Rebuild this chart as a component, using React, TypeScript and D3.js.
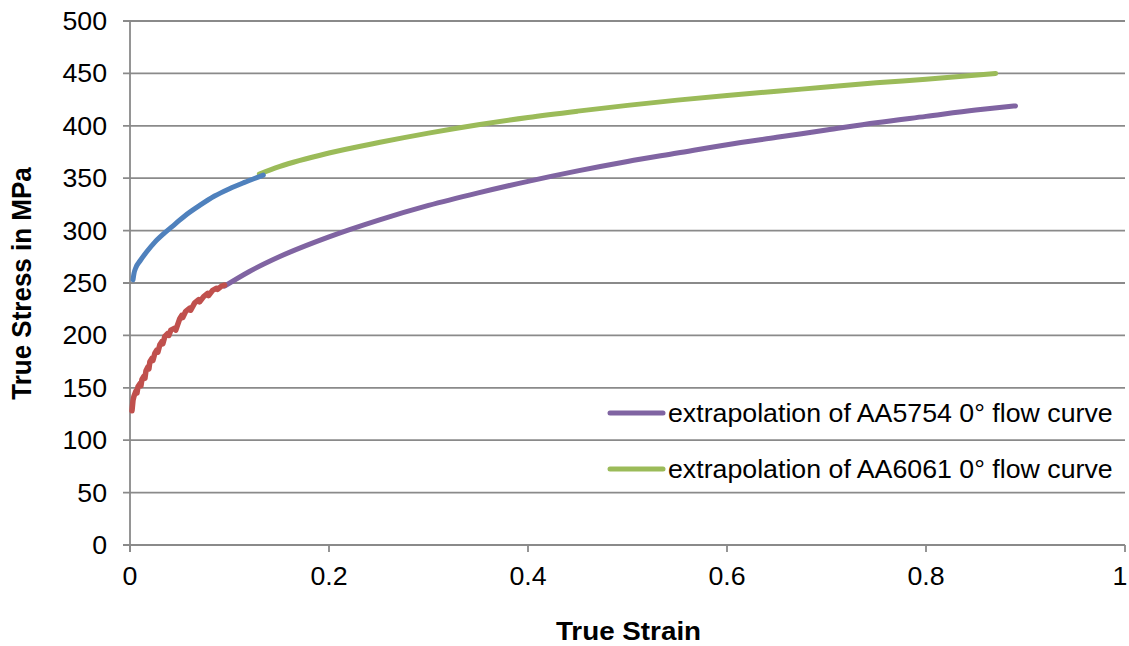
import React, { useEffect, useRef } from "react";
import * as d3 from "d3";

const xTicks = [0, 0.2, 0.4, 0.6, 0.8, 1];
const xTickLabels = ["0", "0.2", "0.4", "0.6", "0.8", "1"];
const yTicks = [0, 50, 100, 150, 200, 250, 300, 350, 400, 450, 500];

// AA5754 measured flow curve (serrated)
const redStrain = [0.002, 0.003, 0.004, 0.006, 0.007, 0.008, 0.010, 0.011, 0.012, 0.014, 0.015, 0.016, 0.018, 0.019, 0.020, 0.022, 0.023, 0.025, 0.027, 0.028, 0.030, 0.032, 0.033, 0.035, 0.038, 0.039, 0.041, 0.045, 0.046, 0.050, 0.052, 0.053, 0.056, 0.060, 0.061, 0.065, 0.069, 0.070, 0.074, 0.078, 0.079, 0.083, 0.087, 0.088, 0.092, 0.095];
const redStress = [128, 138, 142, 147, 145, 151, 154, 152, 158, 161, 159, 166, 170, 168, 175, 178, 176, 183, 186, 184, 191, 194, 192, 199, 202, 200, 205, 207, 205, 216, 219, 217, 223, 226, 224, 231, 234, 232, 237, 240, 238, 243, 245, 244, 247, 248];

// AA6061 measured flow curve
const blueStrain = [0.003, 0.004, 0.006, 0.010, 0.017, 0.025, 0.035, 0.045, 0.055, 0.070, 0.085, 0.100, 0.115, 0.134];
const blueStress = [253, 259, 265, 271, 280, 289, 298, 306, 314, 324, 333, 340, 346, 353];

// extrapolation of AA5754
const purpleStrain = [0.095, 0.12, 0.15, 0.2, 0.25, 0.3, 0.35, 0.4, 0.45, 0.5, 0.55, 0.6, 0.65, 0.7, 0.75, 0.8, 0.85, 0.89];
const purpleStress = [247, 261, 275, 294, 310, 324, 336, 347, 357, 366, 374, 382, 389, 396, 403, 409, 415, 419];

// extrapolation of AA6061
const greenStrain = [0.13, 0.15, 0.2, 0.25, 0.3, 0.35, 0.4, 0.45, 0.5, 0.55, 0.6, 0.65, 0.7, 0.75, 0.8, 0.87];
const greenStress = [354, 361, 374, 384, 393, 401, 408, 414, 419.5, 424.5, 429, 433, 437, 441, 444.5, 450];

const legendLabels = ["extrapolation of AA5754 0° flow curve", "extrapolation of AA6061 0° flow curve"];

const W = 1129;
const H = 646;
const SX = 1.07;

export default function App() {
  const ref = useRef<SVGSVGElement>(null);

  useEffect(() => {
    const svg = d3.select(ref.current);
    svg.selectAll("*").remove();

    const x = d3.scaleLinear().domain([0, 1]).range([130, 1125]);
    const y = d3.scaleLinear().domain([0, 500]).range([545, 21]);
    const font = "'Liberation Sans', Arial, sans-serif";
    const gridColor = "#8a8a8a";

    // gridlines
    svg.append("g").selectAll("line").data(yTicks).join("line")
      .attr("x1", 123).attr("x2", x(1))
      .attr("y1", (d) => y(d)).attr("y2", (d) => y(d))
      .attr("stroke", gridColor).attr("stroke-width", 1.8);

    // y axis line
    svg.append("line").attr("x1", x(0)).attr("x2", x(0)).attr("y1", y(500)).attr("y2", y(0) + 7)
      .attr("stroke", gridColor).attr("stroke-width", 1.8);
    // x ticks
    svg.append("g").selectAll("line").data(xTicks).join("line")
      .attr("x1", (d) => x(d)).attr("x2", (d) => x(d))
      .attr("y1", y(0)).attr("y2", y(0) + 7)
      .attr("stroke", gridColor).attr("stroke-width", 1.8);

    // y tick labels
    svg.append("g").selectAll("text").data(yTicks).join("text")
      .attr("transform", (d) => `translate(107,${y(d) + 9}) scale(${SX},1)`)
      .attr("text-anchor", "end").attr("font-family", font).attr("font-size", 25).attr("fill", "#000")
      .text((d) => String(d));

    // x tick labels
    svg.append("g").selectAll("text").data(xTicks).join("text")
      .attr("transform", (d) => `translate(${Math.min(x(d), 1120)},585) scale(${SX},1)`)
      .attr("text-anchor", "middle").attr("font-family", font).attr("font-size", 25).attr("fill", "#000")
      .text((d, i) => xTickLabels[i]);

    // axis titles
    svg.append("text")
      .attr("transform", `translate(31,283.5) scale(${SX},1) rotate(-90)`)
      .attr("text-anchor", "middle").attr("font-family", font).attr("font-size", 26).attr("font-weight", "bold")
      .text("True Stress in MPa");
    svg.append("text")
      .attr("transform", `translate(628.5,640) scale(${SX},1)`)
      .attr("text-anchor", "middle").attr("font-family", font).attr("font-size", 26).attr("font-weight", "bold")
      .text("True Strain");

    const smooth = d3.line<[number, number]>().x((d) => x(d[0])).y((d) => y(d[1])).curve(d3.curveMonotoneX);
    const straight = d3.line<[number, number]>().x((d) => x(d[0])).y((d) => y(d[1]));
    const series = [
      { xs: purpleStrain, ys: purpleStress, color: "#8064A2", gen: smooth, w: 5 },
      { xs: greenStrain, ys: greenStress, color: "#9BBB59", gen: smooth, w: 5 },
      { xs: blueStrain, ys: blueStress, color: "#4F81BD", gen: smooth, w: 5 },
      { xs: redStrain, ys: redStress, color: "#C0504D", gen: straight, w: 5.5 },
    ];
    series.forEach((s) => {
      const pts: [number, number][] = s.xs.map((v, i) => [v, s.ys[i]]);
      svg.append("path").attr("d", s.gen(pts))
        .attr("fill", "none").attr("stroke", s.color).attr("stroke-width", s.w)
        .attr("stroke-linecap", "round").attr("stroke-linejoin", "round");
    });

    // legend
    const legendColors = ["#8064A2", "#9BBB59"];
    const legendY = [413, 469];
    legendLabels.forEach((lab, i) => {
      svg.append("line").attr("x1", 610).attr("x2", 663)
        .attr("y1", legendY[i]).attr("y2", legendY[i])
        .attr("stroke", legendColors[i]).attr("stroke-width", 5).attr("stroke-linecap", "round");
      svg.append("text")
        .attr("transform", `translate(668,${legendY[i] + 9}) scale(${SX},1)`)
        .attr("font-family", font).attr("font-size", 25).attr("fill", "#000")
        .text(lab);
    });
  }, []);

  return (
    <svg ref={ref} width={W} height={H} style={{ position: "absolute", left: 0, top: 0, background: "#fff" }} />
  );
}
